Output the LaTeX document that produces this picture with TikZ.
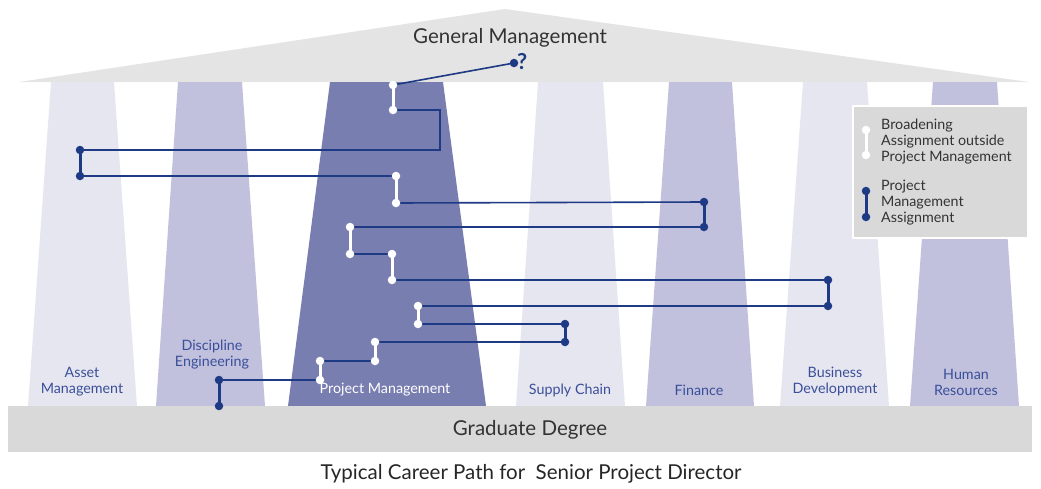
\documentclass[tikz,border=0pt]{standalone}
\usepackage{fontspec}
\setmainfont{Lato}
\definecolor{roofgray}{HTML}{E4E4E4}
\definecolor{basegray}{HTML}{D9D9D9}
\definecolor{pilllight}{HTML}{E6E6F0}
\definecolor{pillmid}{HTML}{C1C1DD}
\definecolor{pilldark}{HTML}{797EB0}
\definecolor{pathblue}{HTML}{1F3A84}
\definecolor{labelblue}{HTML}{3A4F9A}
\definecolor{textgray}{HTML}{333333}
\tikzset{
  link/.style={draw=pathblue, line width=1.6pt},
  pmbar/.style={draw=pathblue, line width=3pt},
  broadbar/.style={draw=white, line width=3pt},
  pmdot/.style={circle, fill=pathblue, minimum size=8.5pt, inner sep=0pt},
  broaddot/.style={circle, fill=white, minimum size=8.5pt, inner sep=0pt},
  pillarlabel/.style={text=labelblue, align=center, font=\fontsize{14.3}{16}\selectfont, inner sep=0pt},
  legendtext/.style={text=textgray, align=left, anchor=west, font=\fontsize{14.3}{16}\selectfont, inner sep=0pt},
  titletext/.style={text=textgray, font=\fontsize{20.5}{24}\selectfont, inner sep=0pt}
}
\begin{document}
\begin{tikzpicture}[x=1pt,y=-1pt]
\useasboundingbox (0,0) rectangle (1041,488);

% roof
\fill[roofgray] (19,82) -- (505,9) -- (1029,82) -- cycle;

% pillars
\fill[pilllight] (28,406) -- (51,82) -- (114,82) -- (137,406) -- cycle;
\fill[pillmid]   (156,406) -- (178,82) -- (242,82) -- (265,406) -- cycle;
\fill[pilldark]  (288,406) -- (330,82) -- (443,82) -- (486,406) -- cycle;
\fill[pilllight] (516,406) -- (538,82) -- (603,82) -- (625,406) -- cycle;
\fill[pillmid]   (646,406) -- (669,82) -- (732,82) -- (754,406) -- cycle;
\fill[pilllight] (780,406) -- (803,82) -- (867,82) -- (889,406) -- cycle;
\fill[pillmid]   (910,406) -- (933,82) -- (997,82) -- (1019,406) -- cycle;

% base
\fill[basegray] (8,406) rectangle (1032,452);

% texts
\node[titletext] (gm) at (510,38) {General Management};
\node[titletext] (gd) at (530,430) {Graduate Degree};
\node[titletext, text=black!85] (cap) at (531,474) {Typical Career Path for\ \ Senior Project Director};

\node[pillarlabel] (l1) at (82,382) {Asset\\Management};
\node[pillarlabel] (l2) at (212,355) {Discipline\\Engineering};
\node[pillarlabel, text=white] (l3) at (385,390) {Project Management};
\node[pillarlabel] (l4) at (570,390) {Supply Chain};
\node[pillarlabel] (l5) at (699,390) {Finance};
\node[pillarlabel] (l6) at (835,382) {Business\\Development};
\node[pillarlabel] (l7) at (966,382) {Human\\Resources};

% legend
\filldraw[fill=basegray, draw=white, line width=1.5pt] (853,106) rectangle (1028,238);
\coordinate (lga) at (866,130);
\coordinate (lgb) at (866,155);
\coordinate (lgc) at (866,191);
\coordinate (lgd) at (866,217);
\draw[broadbar] (lga) -- (lgb);
\draw[pmbar] (lgc) -- (lgd);
\node[broaddot] (lgadot) at (lga) {};
\node[broaddot] (lgbdot) at (lgb) {};
\node[pmdot] (lgcdot) at (lgc) {};
\node[pmdot] (lgddot) at (lgd) {};
\node[legendtext] (lt1) at (881,142) {Broadening\\Assignment outside\\Project Management};
\node[legendtext] (lt2) at (881,203) {Project\\Management\\Assignment};

% career path points
\coordinate (q)  at (514,63);
\coordinate (a1) at (393,85);
\coordinate (a2) at (393,110);
\coordinate (k1) at (440,110);
\coordinate (k2) at (440,150);
\coordinate (b1) at (80,150);
\coordinate (b2) at (80,176);
\coordinate (c1) at (396,176);
\coordinate (c2) at (396,203);
\coordinate (d1) at (704,202);
\coordinate (d2) at (704,227);
\coordinate (e1) at (350,227);
\coordinate (e2) at (350,254);
\coordinate (f1) at (392,254);
\coordinate (f2) at (392,280);
\coordinate (g1) at (828,280);
\coordinate (g2) at (828,306);
\coordinate (h1) at (418,306);
\coordinate (h2) at (418,324);
\coordinate (i1) at (565,324);
\coordinate (i2) at (565,342);
\coordinate (j1) at (375,342);
\coordinate (j2) at (375,361);
\coordinate (m1) at (320,361);
\coordinate (m2) at (320,380);
\coordinate (n1) at (219,380);
\coordinate (n2) at (219,406);

% horizontal connectors
\draw[link] (q) -- (a1);
\draw[link] (a2) -- (k1) -- (k2) -- (b1);
\draw[link] (b2) -- (c1);
\draw[link] (c2) -- (d1);
\draw[link] (d2) -- (e1);
\draw[link] (e2) -- (f1);
\draw[link] (f2) -- (g1);
\draw[link] (g2) -- (h1);
\draw[link] (h2) -- (i1);
\draw[link] (i2) -- (j1);
\draw[link] (j2) -- (m1);
\draw[link] (m2) -- (n1);

% assignment bars
\draw[broadbar] (a1) -- (a2);
\draw[pmbar] (b1) -- (b2);
\draw[broadbar] (c1) -- (c2);
\draw[pmbar] (d1) -- (d2);
\draw[broadbar] (e1) -- (e2);
\draw[broadbar] (f1) -- (f2);
\draw[pmbar] (g1) -- (g2);
\draw[broadbar] (h1) -- (h2);
\draw[pmbar] (i1) -- (i2);
\draw[broadbar] (j1) -- (j2);
\draw[broadbar] (m1) -- (m2);
\draw[pmbar] (n1) -- (n2);

% end dots
\node[pmdot] (qdot) at (q) {};
\node[text=pathblue, font=\bfseries\fontsize{22}{24}\selectfont, anchor=west, inner sep=0pt] (qmark) at (517,62) {?};
\foreach \p in {a1,a2,c1,c2,e1,e2,f1,f2,h1,h2,j1,j2,m1,m2}
  \node[broaddot] (\p dot) at (\p) {};
\foreach \p in {b1,b2,d1,d2,g1,g2,i1,i2,n1,n2}
  \node[pmdot] (\p dot) at (\p) {};
\end{tikzpicture}
\end{document}
